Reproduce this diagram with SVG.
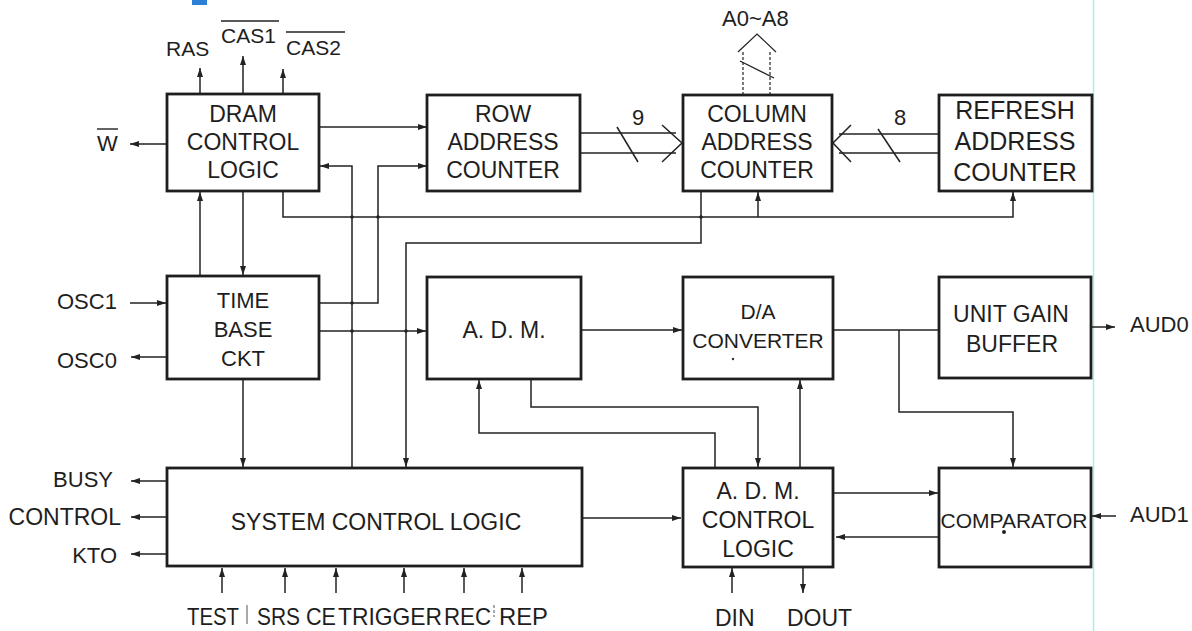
<svg xmlns="http://www.w3.org/2000/svg" width="1192" height="631" viewBox="0 0 1192 631">
<defs>
<marker id="ah" markerWidth="10" markerHeight="8" refX="9" refY="3.5" orient="auto" markerUnits="userSpaceOnUse">
<path d="M0,0.5 L9,3.5 L0,6.5 z" fill="#222"/>
</marker>
<style>
.box{fill:#fff;stroke:#1e1e1e;stroke-width:2.8}
.t{font-family:"Liberation Sans",Arial,Helvetica,sans-serif;fill:#1e1e1e;text-anchor:middle;font-size:23px}
.lbl{font-family:"Liberation Sans",Arial,Helvetica,sans-serif;fill:#1e1e1e;font-size:22px}
.bl{font-size:24px}
.w{fill:none;stroke:#222;stroke-width:1.5}
.a{fill:none;stroke:#222;stroke-width:1.5;marker-end:url(#ah)}
.bus{fill:none;stroke:#333;stroke-width:1.3;stroke-dasharray:3 2}
.ol{stroke:#222;stroke-width:1.4}
</style>
</defs>
<rect width="1192" height="631" fill="#fff"/>
<rect x="192" y="0" width="15" height="5" fill="#2b7fd4"/>
<line x1="1093.5" y1="0" x2="1093.5" y2="631" stroke="#aee9ef" stroke-width="1.5"/>

<g id="connectors">
<line class="a" x1="200" y1="94" x2="200" y2="68"/>
<line class="a" x1="243" y1="94" x2="243" y2="56"/>
<line class="a" x1="283" y1="94" x2="283" y2="69"/>
<line class="a" x1="167" y1="144" x2="130" y2="144"/>
<line class="a" x1="319" y1="127" x2="427" y2="127"/>
<polyline class="a" points="319,303 378,303 378,166 427,166"/>
<polyline class="a" points="352,468 352,166 320,166"/>
<polyline class="a" points="283,191 283,217 1013,217 1013,192"/>
<line class="a" x1="758" y1="217" x2="758" y2="192"/>
<polyline class="a" points="701,191 701,243 406,243 406,467"/>
<line class="a" x1="200" y1="276" x2="200" y2="192"/>
<line class="a" x1="243" y1="191" x2="243" y2="275"/>
<line class="a" x1="130" y1="303" x2="166" y2="303"/>
<line class="a" x1="167" y1="357" x2="131" y2="357"/>
<line class="a" x1="319" y1="331" x2="426" y2="331"/>
<line class="a" x1="243" y1="379" x2="243" y2="467"/>
<line class="a" x1="581" y1="330" x2="682" y2="330"/>
<polyline class="a" points="715,468 715,433 479,433 479,380"/>
<polyline class="a" points="531,379 531,407 758,407 758,467"/>
<line class="a" x1="800" y1="468" x2="800" y2="380"/>
<line class="w" x1="833" y1="330" x2="939" y2="330"/>
<polyline class="a" points="899,330 899,412 1013,412 1013,467"/>
<line class="a" x1="1091" y1="327" x2="1115" y2="327"/>
<line class="a" x1="1116" y1="516" x2="1092" y2="516"/>
<line class="a" x1="833" y1="493" x2="938" y2="493"/>
<line class="a" x1="939" y1="537" x2="836" y2="537"/>
<line class="a" x1="582" y1="518" x2="681" y2="518"/>
<line class="a" x1="167" y1="481" x2="131" y2="481"/>
<line class="a" x1="167" y1="517" x2="131" y2="517"/>
<line class="a" x1="167" y1="554" x2="131" y2="554"/>
<line class="a" x1="222" y1="593" x2="222" y2="568"/>
<line class="a" x1="285" y1="593" x2="285" y2="568"/>
<line class="a" x1="336" y1="593" x2="336" y2="568"/>
<line class="a" x1="404" y1="593" x2="404" y2="568"/>
<line class="a" x1="464" y1="593" x2="464" y2="568"/>
<line class="a" x1="522" y1="593" x2="522" y2="568"/>
<line class="a" x1="732" y1="593" x2="732" y2="568"/>
<line class="a" x1="803" y1="567" x2="803" y2="593"/>
<line class="w" x1="580" y1="133" x2="676" y2="133"/>
<line class="w" x1="580" y1="153" x2="676" y2="153"/>
<polyline class="w" points="662,125 682,143 662,162"/>
<line class="w" x1="617" y1="127" x2="638" y2="162"/>
<line class="w" x1="939" y1="134" x2="839" y2="134"/>
<line class="w" x1="939" y1="153" x2="839" y2="153"/>
<polyline class="w" points="851,125 833,143 851,162"/>
<line class="w" x1="878" y1="129" x2="900" y2="162"/>
<line class="bus" x1="743" y1="95" x2="743" y2="50"/>
<line class="bus" x1="770" y1="95" x2="770" y2="50"/>
<polyline class="w" points="738,52 757,34 776,52" style="stroke-width:1.2"/>
<line class="w" x1="740" y1="61" x2="774" y2="78" style="stroke-width:1.3"/>
<g fill="#222">
<circle cx="352" cy="217" r="1.8"/>
<circle cx="378" cy="217" r="1.8"/>
<circle cx="352" cy="303" r="1.8"/>
<circle cx="352" cy="331" r="1.8"/>
<circle cx="406" cy="331" r="1.8"/>
<circle cx="701" cy="217" r="1.8"/>
</g>
</g>

<g id="dram">
<rect class="box" x="167" y="94" width="152" height="97"/>
<text class="t" x="243" y="122">DRAM</text>
<text class="t" x="243" y="150">CONTROL</text>
<text class="t" x="243" y="178">LOGIC</text>
</g>
<g id="row">
<rect class="box" x="427" y="95" width="153" height="96"/>
<text class="t" x="503" y="122">ROW</text>
<text class="t" x="503" y="150">ADDRESS</text>
<text class="t" x="503" y="178">COUNTER</text>
</g>
<g id="column">
<rect class="box" x="683" y="95" width="149" height="96"/>
<text class="t" x="757" y="122">COLUMN</text>
<text class="t" x="757" y="150">ADDRESS</text>
<text class="t" x="757" y="178">COUNTER</text>
</g>
<g id="refresh">
<rect class="box" x="939" y="95" width="153" height="96"/>
<text class="t" x="1015" y="119" style="font-size:25px">REFRESH</text>
<text class="t" x="1015" y="150" style="font-size:25px">ADDRESS</text>
<text class="t" x="1015" y="181" style="font-size:25px">COUNTER</text>
</g>
<g id="timebase">
<rect class="box" x="167" y="276" width="152" height="103"/>
<text class="t" x="243" y="308" style="font-size:22px">TIME</text>
<text class="t" x="243" y="337" style="font-size:22px">BASE</text>
<text class="t" x="243" y="366" style="font-size:22px">CKT</text>
</g>
<g id="adm">
<rect class="box" x="427" y="277" width="154" height="102"/>
<text class="t" x="504" y="338">A. D. M.</text>
</g>
<g id="da">
<rect class="box" x="683" y="277" width="150" height="102"/>
<text class="t" x="758" y="319" style="font-size:21px">D/A</text>
<text class="t" x="758" y="348" style="font-size:21px">CONVERTER</text>
<circle cx="733" cy="359" r="1.2" fill="#333"/>
</g>
<g id="ugb">
<rect class="box" x="939" y="277" width="152" height="101"/>
<text class="t" x="1011" y="322">UNIT GAIN</text>
<text class="t" x="1012" y="352">BUFFER</text>
</g>
<g id="syscontrol">
<rect class="box" x="167" y="468" width="415" height="98"/>
<text class="t" x="376" y="530">SYSTEM CONTROL LOGIC</text>
</g>
<g id="admcontrol">
<rect class="box" x="683" y="468" width="150" height="99"/>
<text class="t" x="758" y="499">A. D. M.</text>
<text class="t" x="758" y="528">CONTROL</text>
<text class="t" x="758" y="557">LOGIC</text>
</g>
<g id="comparator">
<rect class="box" x="939" y="468" width="152" height="99"/>
<text class="t" x="1014" y="528" style="font-size:21px">COMPARATOR</text>
<circle cx="1004" cy="532" r="2" fill="#222"/>
</g>

<g id="labels">
<text class="lbl" x="166" y="56" style="font-size:21px">RAS</text>
<text class="lbl" x="221" y="43" style="font-size:21px">CAS1</text>
<line class="ol" x1="221" y1="21" x2="279" y2="21"/>
<text class="lbl" x="286" y="55" style="font-size:21px">CAS2</text>
<line class="ol" x1="286" y1="32" x2="345" y2="32"/>
<text class="lbl" x="97" y="151">W</text>
<line class="ol" x1="97" y1="129" x2="118" y2="129"/>
<text class="lbl" x="722" y="26">A0~A8</text>
<text class="lbl" x="632" y="125">9</text>
<text class="lbl" x="894" y="125">8</text>
<text class="lbl" x="57" y="309">OSC1</text>
<text class="lbl" x="57" y="368">OSC0</text>
<text class="lbl" x="1130" y="332">AUD0</text>
<text class="lbl" x="1130" y="522">AUD1</text>
<text class="lbl" x="113" y="487" text-anchor="end">BUSY</text>
<text class="lbl" x="121" y="525" text-anchor="end" style="font-size:23px">CONTROL</text>
<text class="lbl" x="117" y="563" text-anchor="end">KTO</text>
<text class="lbl bl" x="187" y="625" textLength="52" lengthAdjust="spacingAndGlyphs">TEST</text>
<line x1="247" y1="605" x2="247" y2="624" stroke="#555" stroke-width="1"/>
<text class="lbl bl" x="257" y="625" textLength="43" lengthAdjust="spacingAndGlyphs">SRS</text>
<text class="lbl bl" x="306" y="625" textLength="30" lengthAdjust="spacingAndGlyphs">CE</text>
<text class="lbl bl" x="338" y="625" textLength="104" lengthAdjust="spacingAndGlyphs">TRIGGER</text>
<text class="lbl bl" x="444" y="625" textLength="47" lengthAdjust="spacingAndGlyphs">REC</text>
<line x1="494" y1="605" x2="494" y2="617" stroke="#555" stroke-width="1" stroke-dasharray="3 2"/>
<text class="lbl bl" x="499" y="625" textLength="49" lengthAdjust="spacingAndGlyphs">REP</text>
<text class="lbl" x="715" y="626" style="font-size:23px">DIN</text>
<text class="lbl" x="787" y="626" style="font-size:23px">DOUT</text>
</g>
</svg>
